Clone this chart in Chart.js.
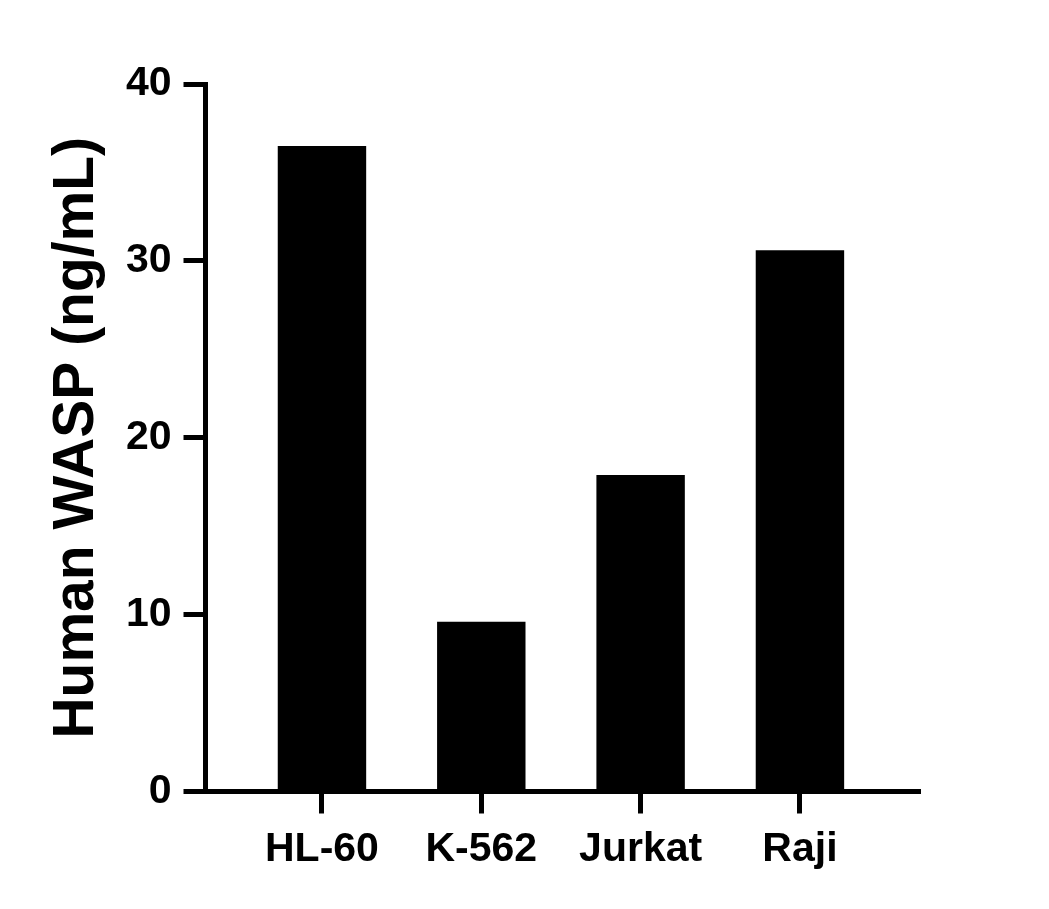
<!DOCTYPE html>
<html>
<head>
<meta charset="utf-8">
<script src="https://cdn.jsdelivr.net/npm/chart.js@4/dist/chart.umd.min.js"></script>
<style>
  html, body { margin: 0; padding: 0; background: #fff; }
  #wrap { width: 1049px; height: 909px; }
</style>
</head>
<body>
<div id="wrap"><canvas id="chart" width="1049" height="909"></canvas></div>
<script>
// cell lines and measured WASP concentration
const cellLines = ['HL-60', 'K-562', 'Jurkat', 'Raji'];
const waspValues = [36.5, 9.6, 17.9, 30.6];
const yTicks = [0, 10, 20, 30, 40];

const fontFamily = '"Liberation Sans", Arial, Helvetica, sans-serif';

const ctx = document.getElementById('chart').getContext('2d');

new Chart(ctx, {
  type: 'bar',
  data: {
    datasets: [{
      data: waspValues.map((v, i) => ({ x: i, y: v })),
      backgroundColor: '#000',
      borderWidth: 0,
      barPercentage: 0.555,
      categoryPercentage: 1
    }]
  },
  options: {
    responsive: false,
    animation: false,
    layout: {
      padding: { left: 0, top: 84, right: 131, bottom: 17.5 }
    },
    plugins: {
      legend: { display: false },
      tooltip: { enabled: false }
    },
    scales: {
      x: {
        type: 'linear',
        offset: false,
        min: -0.731,
        max: 3.741,
        afterBuildTicks: scale => {
          scale.ticks = cellLines.map((_, i) => ({ value: i }));
        },
        afterFit: scale => { scale.height = 100; },
        border: { display: true, color: '#000', width: 5 },
        grid: {
          offset: false,
          drawOnChartArea: false,
          drawTicks: true,
          tickLength: 22,
          color: '#000',
          lineWidth: 5
        },
        ticks: {
          autoSkip: false,
          maxRotation: 0,
          padding: 12,
          color: '#000',
          font: { family: fontFamily, size: 41, weight: 'bold' },
          callback: value => cellLines[value] ?? ''
        }
      },
      y: {
        min: 0,
        max: 40,
        afterBuildTicks: scale => {
          scale.ticks = yTicks.map(v => ({ value: v }));
        },
        afterFit: scale => { scale.width = 205.5; },
        border: { display: true, color: '#000', width: 5 },
        grid: {
          drawOnChartArea: false,
          drawTicks: true,
          tickLength: 22,
          color: '#000',
          lineWidth: 5
        },
        ticks: {
          padding: 12,
          color: '#000',
          font: { family: fontFamily, size: 41, weight: 'bold' }
        },
        title: {
          display: true,
          text: 'Human WASP (ng/mL)',
          color: '#000',
          padding: { top: 43, bottom: 0 },
          font: { family: fontFamily, size: 57, weight: 'bold' }
        }
      }
    }
  }
});
</script>
</body>
</html>
